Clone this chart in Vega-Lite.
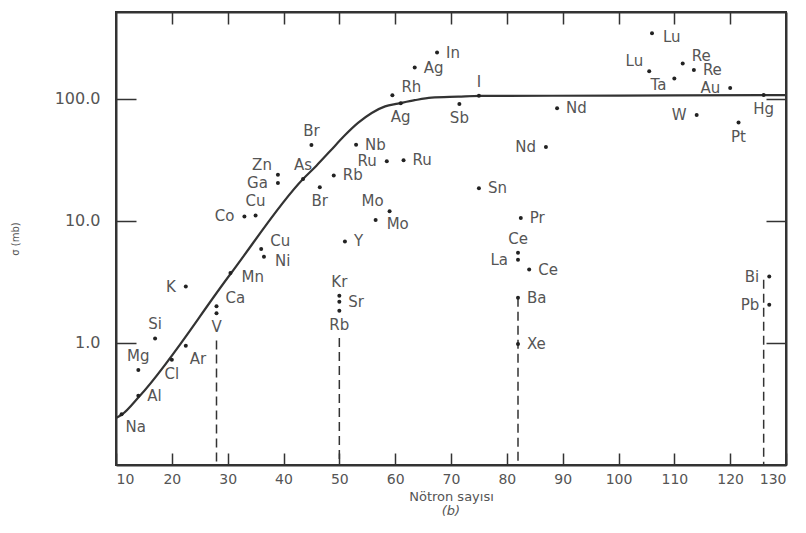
{
  "$schema": "https://vega.github.io/schema/vega-lite/v6.json",
  "autosize": "none",
  "padding": {"left": 116, "top": 12, "right": 20, "bottom": 68},
  "width": 670,
  "height": 453,
  "background": "white",
  "config": {
    "font": "DejaVu Sans",
    "view": {"stroke": "#333", "strokeWidth": 2},
    "axis": {"domainColor": "#333", "domainWidth": 2, "tickColor": "#333", "tickWidth": 1.5, "grid": false, "labelColor": "#555", "titleColor": "#555", "titleFontWeight": "normal", "labelFont": "DejaVu Sans", "titleFont": "DejaVu Sans"}
  },
  "title": {"text": "(b)", "orient": "bottom", "fontStyle": "italic", "fontWeight": "normal", "fontSize": 13, "color": "#555", "offset": 2, "anchor": "middle"},
  "datasets": {
    "pts": [
      {"id": "Na", "el": "Na", "n": 11, "s": 0.26},
      {"id": "Al", "el": "Al", "n": 14, "s": 0.37},
      {"id": "Mg", "el": "Mg", "n": 14, "s": 0.60},
      {"id": "Cl", "el": "Cl", "n": 20, "s": 0.73},
      {"id": "Si", "el": "Si", "n": 17, "s": 1.09},
      {"id": "Ar", "el": "Ar", "n": 22.5, "s": 0.95},
      {"id": "K", "el": "K", "n": 22.5, "s": 2.9},
      {"id": "Ca", "el": "Ca", "n": 28, "s": 2.0},
      {"id": "V", "el": "V", "n": 28, "s": 1.75},
      {"id": "Mn", "el": "Mn", "n": 30.5, "s": 3.75},
      {"id": "Ni", "el": "Ni", "n": 36.5, "s": 5.1},
      {"id": "Cu2", "el": "Cu", "n": 36, "s": 5.9},
      {"id": "Co", "el": "Co", "n": 33, "s": 10.9},
      {"id": "Cu1", "el": "Cu", "n": 35, "s": 11.1},
      {"id": "Ga", "el": "Ga", "n": 39, "s": 20.5},
      {"id": "Zn", "el": "Zn", "n": 39, "s": 23.9},
      {"id": "As", "el": "As", "n": 43.5, "s": 22.1},
      {"id": "Br1", "el": "Br", "n": 45, "s": 42},
      {"id": "Br2", "el": "Br", "n": 46.5, "s": 18.9},
      {"id": "Rb1", "el": "Rb", "n": 49, "s": 23.6},
      {"id": "Nb", "el": "Nb", "n": 53, "s": 42.2},
      {"id": "Ru1", "el": "Ru", "n": 58.5, "s": 30.9},
      {"id": "Ru2", "el": "Ru", "n": 61.5, "s": 31.4},
      {"id": "Mo1", "el": "Mo", "n": 59, "s": 12},
      {"id": "Mo2", "el": "Mo", "n": 56.5, "s": 10.2},
      {"id": "Y", "el": "Y", "n": 51, "s": 6.8},
      {"id": "Kr", "el": "Kr", "n": 50, "s": 2.44},
      {"id": "Sr", "el": "Sr", "n": 50, "s": 2.18},
      {"id": "Rb2", "el": "Rb", "n": 50, "s": 1.84},
      {"id": "Rh", "el": "Rh", "n": 59.5, "s": 107},
      {"id": "Ag1", "el": "Ag", "n": 61, "s": 92},
      {"id": "Ag2", "el": "Ag", "n": 63.5, "s": 181},
      {"id": "In", "el": "In", "n": 67.5, "s": 240},
      {"id": "I", "el": "I", "n": 75, "s": 106},
      {"id": "Sb", "el": "Sb", "n": 71.5, "s": 91},
      {"id": "Sn", "el": "Sn", "n": 75, "s": 18.5},
      {"id": "Nd1", "el": "Nd", "n": 89, "s": 84},
      {"id": "Nd2", "el": "Nd", "n": 87, "s": 40.3},
      {"id": "Pr", "el": "Pr", "n": 82.5, "s": 10.6},
      {"id": "Ce1", "el": "Ce", "n": 82, "s": 5.5},
      {"id": "La", "el": "La", "n": 82, "s": 4.8},
      {"id": "Ce2", "el": "Ce", "n": 84, "s": 4.0},
      {"id": "Ba", "el": "Ba", "n": 82, "s": 2.35},
      {"id": "Xe", "el": "Xe", "n": 82, "s": 0.98},
      {"id": "Lu1", "el": "Lu", "n": 106, "s": 346},
      {"id": "Lu2", "el": "Lu", "n": 105.5, "s": 169},
      {"id": "Re1", "el": "Re", "n": 111.5, "s": 195},
      {"id": "Re2", "el": "Re", "n": 113.5, "s": 173},
      {"id": "Ta", "el": "Ta", "n": 110, "s": 147},
      {"id": "Au", "el": "Au", "n": 120, "s": 123},
      {"id": "Hg", "el": "Hg", "n": 126, "s": 108},
      {"id": "W", "el": "W", "n": 114, "s": 74},
      {"id": "Pt", "el": "Pt", "n": 121.5, "s": 64},
      {"id": "Bi", "el": "Bi", "n": 127, "s": 3.5},
      {"id": "Pb", "el": "Pb", "n": 127, "s": 2.06}
    ],
    "curve": [
      {"n": 10, "s": 0.243},
      {"n": 11.1, "s": 0.26},
      {"n": 14.2, "s": 0.366},
      {"n": 30.6, "s": 3.73},
      {"n": 43.5, "s": 22.1},
      {"n": 45.9, "s": 28.4},
      {"n": 48.4, "s": 37.6},
      {"n": 50.9, "s": 49.9},
      {"n": 53.4, "s": 63.9},
      {"n": 55.8, "s": 76.8},
      {"n": 58.2, "s": 86.9},
      {"n": 60.5, "s": 91.5},
      {"n": 63.5, "s": 97.7},
      {"n": 66.5, "s": 102.5},
      {"n": 71.3, "s": 104.4},
      {"n": 75.2, "s": 105.9},
      {"n": 100, "s": 106.5},
      {"n": 126, "s": 107.5},
      {"n": 130, "s": 107.5}
    ],
    "dash": [
      {"n": 28, "top": 1.05},
      {"n": 50, "top": 1.1},
      {"n": 82, "top": 2.35},
      {"n": 126, "top": 3.3}
    ],
    "xt": [
      {"n": 20}, {"n": 30}, {"n": 40}, {"n": 50}, {"n": 60}, {"n": 70},
      {"n": 80}, {"n": 90}, {"n": 100}, {"n": 110}, {"n": 120}
    ],
    "yt": [
      {"s": 1}, {"s": 10}, {"s": 100}
    ]
  },
  "resolve": {"axis": {"x": "independent", "y": "independent"}},
  "layer": [
    {
      "data": {"name": "dash"},
      "mark": {"type": "point", "opacity": 0},
      "encoding": {
        "x": {"field": "n", "type": "quantitative", "scale": {"domain": [10, 130], "nice": false, "zero": false},
          "axis": {"orient": "top", "values": [20, 30, 40, 50, 60, 70, 80, 90, 100, 110, 120], "tickSize": -12, "labels": false, "title": null}},
        "y": {"field": "top", "type": "quantitative", "scale": {"type": "log", "domain": [0.1, 516], "nice": false},
          "axis": {"orient": "right", "values": [1, 10, 100], "tickSize": -20, "labels": false, "title": null}}
      }
    },
    {
      "data": {"name": "dash"},
      "mark": {"type": "point", "opacity": 0},
      "encoding": {
        "x": {"field": "n", "type": "quantitative", "scale": {"domain": [10, 130], "nice": false, "zero": false},
          "axis": {"orient": "bottom", "values": [10, 20, 30, 40, 50, 60, 70, 80, 90, 100, 110, 120, 130], "tickSize": -12, "labelPadding": 19, "labelFontSize": 14, "title": "Nötron sayısı", "titleFontSize": 13, "titlePadding": 4}},
        "y": {"field": "top", "type": "quantitative", "scale": {"type": "log", "domain": [0.1, 516], "nice": false},
          "axis": {"orient": "left", "values": [1, 10, 100], "format": ".1f", "tickSize": -20, "labelPadding": 36, "labelFontSize": 16, "title": "σ (mb)", "titleFontSize": 10, "titlePadding": 34}}
      }
    },
    {
      "encoding": {
        "x": {"field": "n", "type": "quantitative", "axis": null},
        "y": {"field": "s", "type": "quantitative", "axis": null}
      },
      "layer": [
        {
          "data": {"name": "xt"},
          "mark": {"type": "rule", "strokeWidth": 2, "color": "#222"},
          "encoding": {"y": {"datum": 0.1, "type": "quantitative", "axis": null}, "y2": {"datum": 0.127}}
        },
        {
          "data": {"name": "yt"},
          "mark": {"type": "rule", "strokeWidth": 2, "color": "#222"},
          "encoding": {"x": {"datum": 10, "type": "quantitative", "axis": null}, "x2": {"datum": 13.6}}
        },
        {
          "data": {"name": "dash"},
          "mark": {"type": "rule", "strokeDash": [9, 5], "strokeWidth": 1.5, "color": "#333"},
          "encoding": {"y": {"field": "top", "type": "quantitative", "axis": null}, "y2": {"datum": 0.1}}
        },
        {
          "data": {"name": "curve"},
          "mark": {"type": "line", "interpolate": "monotone", "strokeWidth": 2.2, "color": "#333"}
        },
        {
          "data": {"name": "pts"},
          "mark": {"type": "circle", "size": 16, "color": "#222", "opacity": 1}
        },
        {
          "data": {"name": "pts"},
          "transform": [{"filter": {"field": "id", "oneOf": ["Al", "In", "Ag2", "Nb", "Ru2", "Rb1", "Sn", "Pr", "Y", "Sr", "Ba", "Xe", "Ce2", "Nd1", "Re2"]}}],
          "mark": {"type": "text", "align": "left", "baseline": "middle", "dx": 9, "fontSize": 15, "color": "#555"},
          "encoding": {"text": {"field": "el"}}
        },
        {
          "data": {"name": "pts"},
          "transform": [{"filter": {"field": "id", "oneOf": ["Mn", "Ni", "Lu1", "Mo2"]}}],
          "mark": {"type": "text", "align": "left", "baseline": "middle", "dx": 11, "dy": 4, "fontSize": 15, "color": "#555"},
          "encoding": {"text": {"field": "el"}}
        },
        {
          "data": {"name": "pts"},
          "transform": [{"filter": {"field": "id", "oneOf": ["Cu2", "Rh", "Re1", "Ca"]}}],
          "mark": {"type": "text", "align": "left", "baseline": "middle", "dx": 9, "dy": -8, "fontSize": 15, "color": "#555"},
          "encoding": {"text": {"field": "el"}}
        },
        {
          "data": {"name": "pts"},
          "transform": [{"filter": {"field": "id", "oneOf": ["Ar", "Na"]}}],
          "mark": {"type": "text", "align": "left", "baseline": "middle", "dx": 4, "dy": 13, "fontSize": 15, "color": "#555"},
          "encoding": {"text": {"field": "el"}}
        },
        {
          "data": {"name": "pts"},
          "transform": [{"filter": {"field": "id", "oneOf": ["K", "Co", "Ru1", "Nd2", "La", "W", "Au", "Ga", "Bi", "Pb"]}}],
          "mark": {"type": "text", "align": "right", "baseline": "middle", "dx": -10, "fontSize": 15, "color": "#555"},
          "encoding": {"text": {"field": "el"}}
        },
        {
          "data": {"name": "pts"},
          "transform": [{"filter": {"field": "id", "oneOf": ["Mo1", "Lu2", "Zn"]}}],
          "mark": {"type": "text", "align": "right", "baseline": "middle", "dx": -6, "dy": -10, "fontSize": 15, "color": "#555"},
          "encoding": {"text": {"field": "el"}}
        },
        {
          "data": {"name": "pts"},
          "transform": [{"filter": {"field": "id", "oneOf": ["Ta"]}}],
          "mark": {"type": "text", "align": "right", "baseline": "middle", "dx": -8, "dy": 6, "fontSize": 15, "color": "#555"},
          "encoding": {"text": {"field": "el"}}
        },
        {
          "data": {"name": "pts"},
          "transform": [{"filter": {"field": "id", "oneOf": ["Br1", "As", "I", "Kr", "Ce1", "Si", "Cu1", "Mg"]}}],
          "mark": {"type": "text", "align": "center", "baseline": "middle", "dy": -14, "fontSize": 15, "color": "#555"},
          "encoding": {"text": {"field": "el"}}
        },
        {
          "data": {"name": "pts"},
          "transform": [{"filter": {"field": "id", "oneOf": ["Ag1", "Sb", "Br2", "Rb2", "V", "Cl", "Pt", "Hg"]}}],
          "mark": {"type": "text", "align": "center", "baseline": "middle", "dy": 14, "fontSize": 15, "color": "#555"},
          "encoding": {"text": {"field": "el"}}
        }
      ]
    }
  ]
}
